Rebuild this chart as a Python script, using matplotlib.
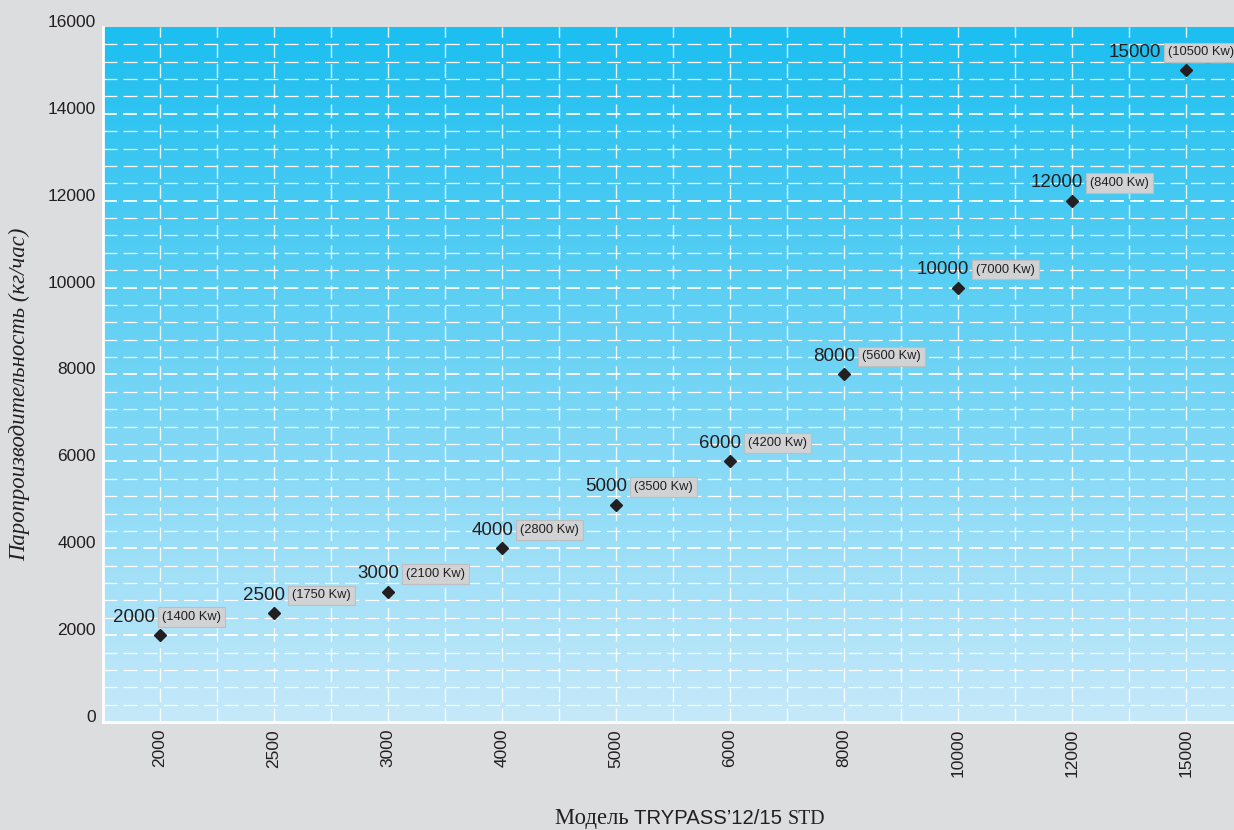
import numpy as np
import matplotlib
matplotlib.use("Agg")
import matplotlib.pyplot as plt
from matplotlib.colors import LinearSegmentedColormap
from matplotlib.transforms import ScaledTranslation

# ---- data ----
models = ["2000", "2500", "3000", "4000", "5000", "6000", "8000", "10000", "12000", "15000"]
steam = [2000, 2500, 3000, 4000, 5000, 6000, 8000, 10000, 12000, 15000]
power_kw = [1400, 1750, 2100, 2800, 3500, 4200, 5600, 7000, 8400, 10500]
y_ticks = [0, 2000, 4000, 6000, 8000, 10000, 12000, 14000, 16000]

plt.rcParams['lines.scale_dashes'] = False
SANS = ['Liberation Sans', 'DejaVu Sans']
SERIF = ['Liberation Serif', 'DejaVu Serif']
TXT = '#231F20'

W, H = 1234, 830
fig = plt.figure(figsize=(W / 100, H / 100), dpi=100, facecolor='#DCDDDF')
ax = fig.add_axes([103 / W, (H - 722) / H, (W - 103) / W, (722 - 27) / H])

x = np.arange(len(models))
ax.set_xlim(-0.5, 9.42)
ax.set_ylim(0, 16000)

# gradient background
cmap = LinearSegmentedColormap.from_list('bg', ['#C6E9FA', '#1BBFF0'])
grad = np.linspace(0, 1, 256).reshape(-1, 1)
ax.imshow(grad, cmap=cmap, origin='lower', aspect='auto',
          extent=(-0.5, 9.42, 0, 16000), zorder=0)

# grid lines
dash = (0, (10, 4.5))
for yv in np.arange(400, 16000, 400):
    lw = 1.3 if yv % 2000 == 0 else 0.9
    ax.axhline(yv, color='white', lw=lw, ls=dash, zorder=1)
for xv in np.arange(0, 10, 0.5):
    ax.axvline(xv, color='white', lw=1.0, ls=(0, (10, 4.5)), zorder=1, alpha=0.9)

# points
ax.plot(x, steam, ls='none', marker='D', ms=6.2, color=TXT, zorder=5)

# labels
for i, (xi, s, p) in enumerate(zip(x, steam, power_kw)):
    dx = 11
    if i == 0:
        dx = -5
    elif i == len(x) - 1:
        dx = -25
    t = ax.annotate(f"{s}", (xi, s), xytext=(dx, 18), textcoords='offset pixels',
                    ha='right', va='center', fontsize=13.5, family=SANS, color=TXT,
                    zorder=6)
    ax.annotate(f"({p} Kw)", xy=(1, 0.5), xycoords=t, xytext=(7, 0),
                textcoords='offset pixels', ha='left', va='center',
                fontsize=9.3, family=SANS, color=TXT, zorder=6,
                bbox=dict(boxstyle='square,pad=0.3', fc='#D1D2D4', ec='#BDBEC0', lw=0.8))

# axes styling
for side in ['top', 'right']:
    ax.spines[side].set_visible(False)
for side in ['left', 'bottom']:
    ax.spines[side].set_color('white')
    ax.spines[side].set_linewidth(2)
    ax.spines[side].set_zorder(3)

ax.set_xticks(x)
ax.set_xticklabels(models, rotation=90, fontsize=12.5, family=SANS, color=TXT)
ax.set_yticks(y_ticks)
ax.set_yticklabels([str(v) for v in y_ticks], fontsize=12.5, family=SANS, color=TXT)
ax.tick_params(axis='both', length=0)
ax.tick_params(axis='y', pad=5)
ax.tick_params(axis='x', pad=5)
off = ScaledTranslation(0, 6 / 100, fig.dpi_scale_trans)
for lbl in ax.get_yticklabels():
    lbl.set_transform(lbl.get_transform() + off)

# y label
fig.text(20 / W, 1 - 394 / H, "Паропроизводительность (кг/час)", rotation=90,
         ha='center', va='center', fontsize=16.4, family=SERIF, style='italic', color=TXT)

# x label (mixed fonts), placed piece by piece on one baseline
base_y = 1 - 824 / H
pieces = [("Модель ", SERIF, 16.3), ("TRYPASS’12/15 ", SANS, 14.6), ("STD", SERIF, 14.3)]
renderer = fig.canvas.get_renderer()
cur_x = 555 / W
for txt, fam, fs in pieces:
    t = fig.text(cur_x, base_y, txt, ha='left', va='baseline', fontsize=fs,
                 family=fam, color=TXT)
    bb = t.get_window_extent(renderer=renderer)
    cur_x = bb.x1 / W

fig.savefig('out.png', dpi=100, facecolor=fig.get_facecolor())
